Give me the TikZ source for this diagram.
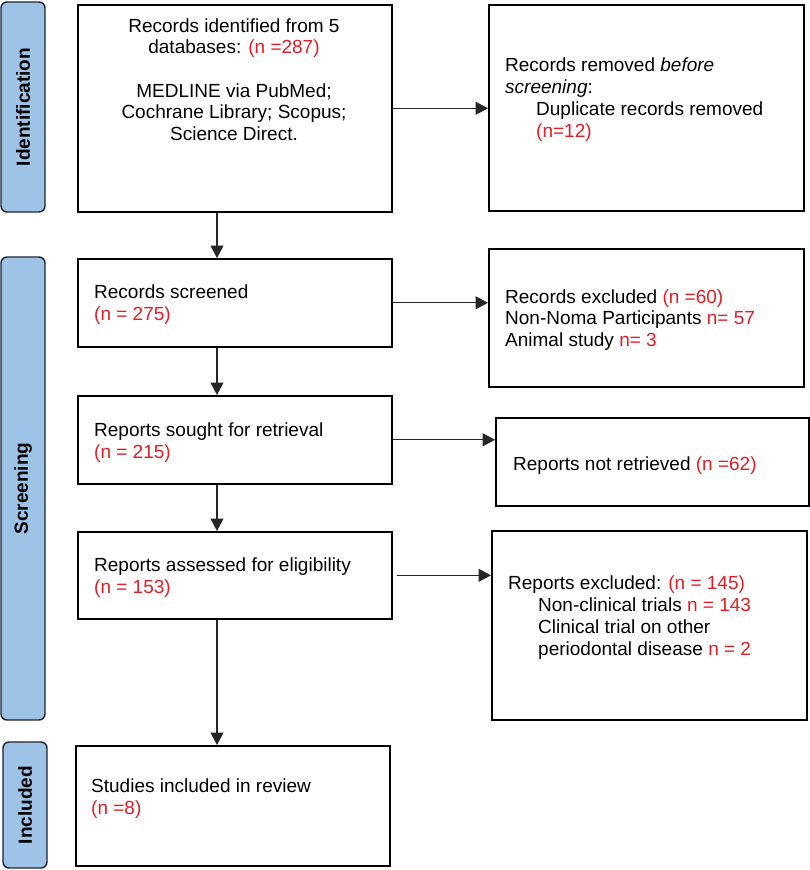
\documentclass[tikz,border=0pt]{standalone}
\usepackage{fontspec}
\setmainfont{Liberation Sans}
\usetikzlibrary{arrows.meta}
\definecolor{nred}{RGB}{228,30,38}
\definecolor{barfill}{RGB}{157,195,230}
\definecolor{barline}{RGB}{30,35,50}
\newcommand{\rn}[1]{{\color{nred}#1}}
\tikzset{
  box/.style={draw=black, line width=1.6pt, fill=white, anchor=north west, inner sep=0pt},
  bar/.style={draw=barline, fill=barfill, line width=1.4pt, rounded corners=6pt, rotate=90, font=\bfseries, inner sep=0pt},
  txt/.style={anchor=base west, inner sep=0pt, align=left},
  arr/.style={draw=black!85, line width=1.1pt, -{Triangle[length=12.5pt,width=13pt]}},
}
\begin{document}
\begin{tikzpicture}[x=1pt,y=-1pt]
\fontsize{19}{21.7}\selectfont
\useasboundingbox (0,0) rectangle (810,870);
% phase bars
\node[bar, minimum width=210, minimum height=44] (pid) at (23,107) {Identification};
\node[bar, minimum width=463, minimum height=44] (psc) at (23,488.5) {Screening};
\node[bar, minimum width=126, minimum height=44] (pin) at (25,805) {Included};
% boxes
\node[box, minimum width=314, minimum height=207] (b1) at (77,4) {};
\node[box, minimum width=315, minimum height=206] (b2) at (488,4) {};
\node[box, minimum width=314, minimum height=88] (b3) at (77,258) {};
\node[box, minimum width=315, minimum height=138] (b4) at (488,248) {};
\node[box, minimum width=314, minimum height=88] (b5) at (77,395) {};
\node[box, minimum width=313, minimum height=88] (b6) at (495,417) {};
\node[box, minimum width=314, minimum height=87] (b7) at (77,531) {};
\node[box, minimum width=315, minimum height=189] (b8) at (491,530) {};
\node[box, minimum width=314, minimum height=120] (b9) at (75,745) {};
% texts (anchor = baseline of the last line)
\node[anchor=base, inner sep=0pt, align=center] (t1) at (234,140.5) {Records identified from 5\\databases: \rn{(n =287)}\\[21.7pt]MEDLINE via PubMed;\\Cochrane Library; Scopus;\\Science Direct.};
\node[txt] (t2) at (505,137) {Records removed \textit{before}\\\textit{screening}:\\\hspace*{31pt}Duplicate records removed\\\hspace*{31pt}\rn{(n=12)}};
\node[txt] (t3) at (94,320.5) {Records screened\\\rn{(n = 275)}};
\node[txt] (t4) at (505,346.5) {Records excluded \rn{(n =60)}\\Non-Noma Participants \rn{n= 57}\\Animal study \rn{n= 3}};
\node[txt] (t5) at (94,458) {Reports sought for retrieval\\\rn{(n = 215)}};
\node[txt] (t6) at (513,470) {Reports not retrieved \rn{(n =62)}};
\node[txt] (t7) at (94,593.5) {Reports assessed for eligibility\\\rn{(n = 153)}};
\node[txt] (t8) at (508,655) {Reports excluded: \rn{(n = 145)}\\\hspace*{30pt}Non-clinical trials \rn{n = 143}\\\hspace*{30pt}Clinical trial on other\\\hspace*{30pt}periodontal disease \rn{n = 2}};
\node[txt] (t9) at (91,814) {Studies included in review\\\rn{(n =8)}};
% connectors
\coordinate (cx) at (217,0);
\draw[arr] (b1.south -| cx) -- (b3.north -| cx);
\draw[arr] (b3.south -| cx) -- (b5.north -| cx);
\draw[arr] (b5.south -| cx) -- (b7.north -| cx);
\draw[arr] (b7.south -| cx) -- (b9.north -| cx);
\draw[arr] (b1.east) -- (b1.east -| b2.west);
\draw[arr] (b3.east) -- (b3.east -| b4.west);
\draw[arr] (b5.east) -- (b5.east -| b6.west);
\draw[arr] ([xshift=4pt]b7.east) -- (b7.east -| b8.west);
\end{tikzpicture}
\end{document}
